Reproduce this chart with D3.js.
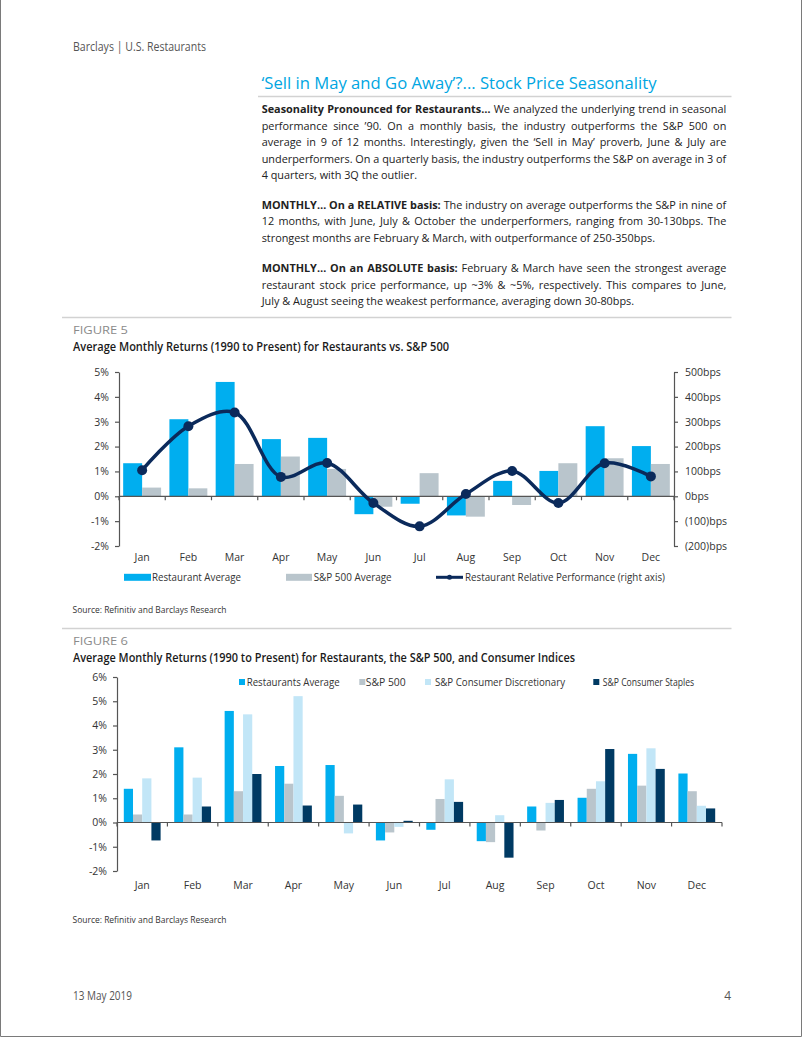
<!DOCTYPE html>
<html><head><meta charset="utf-8">
<script src="https://cdn.jsdelivr.net/npm/d3@7"></script>
<style>
html,body{margin:0;padding:0;background:#fff;}
svg{display:block;}
text{font-family:"Open Sans",sans-serif;}
</style></head><body>
<svg id="page" width="802" height="1037"></svg>
<script>
// ---------- DATA ----------
const months = ["Jan","Feb","Mar","Apr","May","Jun","Jul","Aug","Sep","Oct","Nov","Dec"];
// Figure 5 (%, left axis) and relative performance (bps, right axis)
const restaurantAvg = [1.33,3.1,4.6,2.3,2.35,-0.72,-0.3,-0.77,0.62,1.02,2.82,2.02];
const sp500Avg      = [0.35,0.32,1.3,1.6,1.1,-0.42,0.93,-0.82,-0.35,1.33,1.53,1.3];
const relativePerf  = [105,282,337,78,134,-27,-121,9,102,-27,133,80];
const fig5LeftTicks  = [-2,-1,0,1,2,3,4,5];
const fig5RightTicks = [-200,-100,0,100,200,300,400,500];
const fig5Legend = ["Restaurant Average","S&P 500 Average","Restaurant Relative Performance (right axis)"];
// Figure 6 (%)
const f6Restaurants = [1.39,3.1,4.6,2.33,2.37,-0.74,-0.3,-0.77,0.66,1.02,2.83,2.02];
const f6SP500       = [0.33,0.33,1.29,1.6,1.1,-0.41,0.97,-0.81,-0.33,1.39,1.52,1.29];
const f6ConsDisc    = [1.82,1.85,4.46,5.21,-0.45,-0.18,1.78,0.3,0.81,1.7,3.06,0.69];
const f6ConsStaples = [-0.74,0.66,2.0,0.7,0.74,0.07,0.85,-1.45,0.93,3.03,2.21,0.58];
const fig6Ticks = [-2,-1,0,1,2,3,4,5,6];
const fig6Legend = ["Restaurants Average","S&P 500","S&P Consumer Discretionary","S&P Consumer Staples"];

// ---------- TEXT ----------
const bodyLines = [
 {y:113.3, j:true, parts:[[1,"Seasonality Pronounced for Restaurants…"],[0," We analyzed the underlying trend in seasonal"]]},
 {y:129.7, j:true, parts:[[0,"performance since ’90. On a monthly basis, the industry outperforms the S&P 500 on"]]},
 {y:146.1, j:true, parts:[[0,"average in 9 of 12 months. Interestingly, given the ‘Sell in May’ proverb, June & July are"]]},
 {y:162.5, j:true, parts:[[0,"underperformers. On a quarterly basis, the industry outperforms the S&P on average in 3 of"]]},
 {y:178.9, j:false, parts:[[0,"4 quarters, with 3Q the outlier."]]},
 {y:209.0, j:true, parts:[[1,"MONTHLY… On a RELATIVE basis:"],[0," The industry on average outperforms the S&P in nine of"]]},
 {y:225.4, j:true, parts:[[0,"12 months, with June, July & October the underperformers, ranging from 30-130bps. The"]]},
 {y:241.8, j:false, parts:[[0,"strongest months are February & March, with outperformance of 250-350bps."]]},
 {y:272.2, j:true, parts:[[1,"MONTHLY… On an ABSOLUTE basis:"],[0," February & March have seen the strongest average"]]},
 {y:288.6, j:true, parts:[[0,"restaurant stock price performance, up ~3% & ~5%, respectively. This compares to June,"]]},
 {y:305.0, j:false, parts:[[0,"July & August seeing the weakest performance, averaging down 30-80bps."]]}
];

const svg = d3.select("#page");
function fit(t, w){ return t.attr("textLength", w).attr("lengthAdjust","spacingAndGlyphs"); }
function txt(x,y,s,size,fill,weight){
  return svg.append("text").attr("x",x).attr("y",y).attr("font-size",size)
    .attr("fill",fill).attr("font-weight",weight||400).text(s);
}

// page border
svg.append("path").attr("d","M0.5,0 V1036.5 H801.5 V0").attr("fill","none").attr("stroke","#7a7a7a");

// header
fit(txt(73,51,"Barclays | U.S. Restaurants",12.5,"#555"),133);
fit(txt(261.5,89.3,"‘Sell in May and Go Away’?... Stock Price Seasonality",17,"#00a6e2"),395);
svg.append("line").attr("x1",258).attr("x2",731.5).attr("y1",96.5).attr("y2",96.5)
  .attr("stroke","#d2d2d2").attr("stroke-width",1.5);

// body text with justification
(function(){
  const W = 465, X0 = 261.7;
  const items = bodyLines.map(l=>{
    const t = svg.append("text").attr("font-size",11.2).attr("fill","#222");
    l.parts.forEach(p=>t.append("tspan").attr("font-weight",p[0]?700:400).text(p[1]));
    const w = t.node().getComputedTextLength();
    const n = l.parts.map(p=>p[1]).join("").split(" ").length-1;
    return {t,w,n,l};
  });
  let k = d3.min(items.filter(d=>d.l.j), d=>W/d.w);
  k = Math.min(k,1);
  items.forEach(d=>{
    if(d.l.j){ const s=(W/k - d.w)/d.n; d.t.attr("word-spacing",s); }
    d.t.attr("transform",`translate(${X0},${d.l.y}) scale(${k},1)`);
  });
})();

function sepLine(y){
  svg.append("line").attr("x1",62).attr("x2",731.5).attr("y1",y).attr("y2",y)
    .attr("stroke","#d2d2d2").attr("stroke-width",1.5);
}

function styleAxis(g){
  g.selectAll("path,line").attr("stroke","#555").attr("stroke-width",1.2);
  g.selectAll("text").attr("font-size",10.5).attr("fill","#333").attr("font-family","Open Sans, sans-serif");
}

const cRest="#00aeef", cSP="#b9c5cc", cLine="#0b2a5b", cDisc="#c2e6f7", cStap="#003a63";

// ---------- FIGURE 5 ----------
sepLine(317.5);
fit(txt(73,334,"FIGURE 5",11,"#8a8a8a"),55);
fit(txt(73,351,"Average Monthly Returns (1990 to Present) for Restaurants vs. S&P 500",12,"#1a1a1a",600),376);

const x5 = d3.scaleBand().domain(months).range([119,674]).paddingInner(0.18).paddingOuter(0.09);
const xi5 = d3.scaleBand().domain([0,1]).range([0,x5.bandwidth()]);
const y5 = d3.scaleLinear().domain([-2,5]).range([546,372]);
const yR = d3.scaleLinear().domain([-200,500]).range([546,372]);

const f5 = svg.append("g");
months.forEach((m,i)=>{
  [[restaurantAvg[i],cRest],[sp500Avg[i],cSP]].forEach((d,j)=>{
    f5.append("rect").attr("x",x5(m)+xi5(j)).attr("width",xi5.bandwidth())
      .attr("y",y5(Math.max(0,d[0]))).attr("height",Math.abs(y5(d[0])-y5(0))).attr("fill",d[1]);
  });
});
// zero axis with category ticks
function zeroAxis(g,x,y){
  const r=x.range();
  g.append("line").attr("x1",r[0]).attr("x2",r[1]).attr("y1",y(0)).attr("y2",y(0)).attr("stroke","#555").attr("stroke-width",1.2);
  d3.range(months.length+1).forEach(i=>{
    const xx=r[0]+i*x.step();
    g.append("line").attr("x1",xx).attr("x2",xx).attr("y1",y(0)).attr("y2",y(0)+4).attr("stroke","#555").attr("stroke-width",1.2);
  });
}
zeroAxis(f5,x5,y5);
const gl5 = svg.append("g").attr("transform","translate(119,0)")
  .call(d3.axisLeft(y5).tickValues(fig5LeftTicks).tickSize(4).tickSizeOuter(0).tickPadding(6).tickFormat(d=>d+"%"));
styleAxis(gl5);
const gr5 = svg.append("g").attr("transform","translate(674,0)")
  .call(d3.axisRight(yR).tickValues(fig5RightTicks).tickSize(4).tickSizeOuter(0).tickPadding(7)
  .tickFormat(d=> d<0 ? "("+(-d)+")bps" : d+"bps"));
styleAxis(gr5);
months.forEach(m=>{
  svg.append("text").attr("x",x5(m)+x5.bandwidth()/2).attr("y",560.5).attr("text-anchor","middle")
    .attr("font-size",10.5).attr("fill","#333").text(m);
});
const line5 = d3.line().x((d,i)=>x5(months[i])+x5.bandwidth()/2).y(d=>yR(d)).curve(d3.curveCatmullRom.alpha(0.5));
f5.append("path").datum(relativePerf).attr("d",line5).attr("fill","none").attr("stroke",cLine).attr("stroke-width",3.5);
f5.selectAll("circle").data(relativePerf).join("circle")
  .attr("cx",(d,i)=>x5(months[i])+x5.bandwidth()/2).attr("cy",d=>yR(d)).attr("r",5).attr("fill",cLine);

// legend fig 5
const lg5y = 577.3;
svg.append("rect").attr("x",124).attr("y",lg5y-3.5).attr("width",27).attr("height",7).attr("fill",cRest);
fit(txt(152,lg5y+3.8,fig5Legend[0],10.5,"#333"),89);
svg.append("rect").attr("x",286).attr("y",lg5y-3.5).attr("width",26).attr("height",7).attr("fill",cSP);
fit(txt(313.7,lg5y+3.8,fig5Legend[1],10.5,"#333"),78);
svg.append("line").attr("x1",436).attr("x2",463).attr("y1",lg5y).attr("y2",lg5y).attr("stroke",cLine).attr("stroke-width",3);
svg.append("circle").attr("cx",449.5).attr("cy",lg5y).attr("r",2.5).attr("fill",cLine);
fit(txt(465,lg5y+3.8,fig5Legend[2],10.5,"#333"),200);
fit(txt(72.5,612.5,"Source: Refinitiv and Barclays Research",9.5,"#333"),154);

// ---------- FIGURE 6 ----------
sepLine(628.5);
fit(txt(73,645,"FIGURE 6",11,"#8a8a8a"),55);
fit(txt(73,662,"Average Monthly Returns (1990 to Present) for Restaurants, the S&P 500, and Consumer Indices",12,"#1a1a1a",600),502);

const x6 = d3.scaleBand().domain(months).range([117,722]).paddingInner(0.27).paddingOuter(0.135);
const xi6 = d3.scaleBand().domain([0,1,2,3]).range([0,x6.bandwidth()]);
const y6 = d3.scaleLinear().domain([-2,6]).range([871,677]);
const series6 = [[f6Restaurants,cRest],[f6SP500,cSP],[f6ConsDisc,cDisc],[f6ConsStaples,cStap]];
const f6 = svg.append("g");
months.forEach((m,i)=>{
  series6.forEach((s,j)=>{
    const v=s[0][i];
    f6.append("rect").attr("x",x6(m)+xi6(j)).attr("width",xi6.bandwidth())
      .attr("y",y6(Math.max(0,v))).attr("height",Math.abs(y6(v)-y6(0))).attr("fill",s[1]);
  });
});
zeroAxis(f6,x6,y6);
const gl6 = svg.append("g").attr("transform","translate(117,0)")
  .call(d3.axisLeft(y6).tickValues(fig6Ticks).tickSize(4).tickSizeOuter(0).tickPadding(6).tickFormat(d=>d+"%"));
styleAxis(gl6);
months.forEach(m=>{
  svg.append("text").attr("x",x6(m)+x6.bandwidth()/2).attr("y",889).attr("text-anchor","middle")
    .attr("font-size",10.5).attr("fill","#333").text(m);
});
// legend fig 6
const lg6y = 682;
const lg6 = [[239,246.7,93],[359.3,365.7,40],[425,435,130],[593.3,602.7,91.5]];
lg6.forEach((p,i)=>{
  svg.append("rect").attr("x",p[0]).attr("y",lg6y-3).attr("width",6).attr("height",6).attr("fill",series6[i][1]);
  fit(txt(p[1],lg6y+3.8,fig6Legend[i],10.5,"#333"),p[2]);
});
fit(txt(72.5,922.5,"Source: Refinitiv and Barclays Research",9.5,"#333"),154);

// footer
fit(txt(73,999.5,"13 May 2019",12,"#555"),59);
txt(731,999.5,"4",12,"#555").attr("text-anchor","end");
</script>
</body></html>
